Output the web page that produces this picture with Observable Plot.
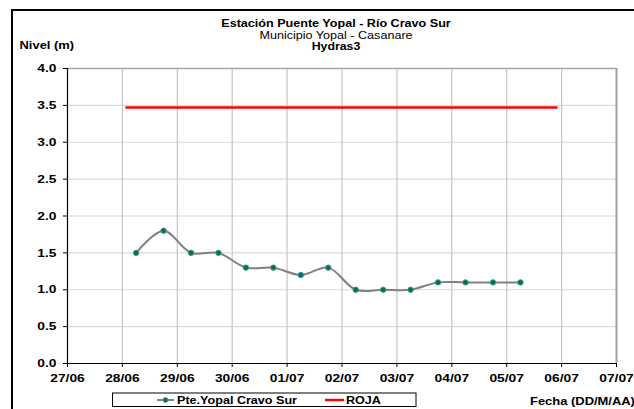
<!DOCTYPE html>
<html>
<head>
<meta charset="utf-8">
<script src="https://cdn.jsdelivr.net/npm/d3@7"></script>
<script src="https://cdn.jsdelivr.net/npm/@observablehq/plot@0.6"></script>
<style>
  html, body { margin: 0; padding: 0; background: #fff; }
  #chart { width: 634px; height: 409px; }
  svg { font-family: "Liberation Sans", Arial, sans-serif; }
</style>
</head>
<body>
<div id="chart"></div>
<script>
// ---- Data ----
const fechas = [
  "2014-06-28T06:00Z", "2014-06-28T18:00Z",
  "2014-06-29T06:00Z", "2014-06-29T18:00Z",
  "2014-06-30T06:00Z", "2014-06-30T18:00Z",
  "2014-07-01T06:00Z", "2014-07-01T18:00Z",
  "2014-07-02T06:00Z", "2014-07-02T18:00Z",
  "2014-07-03T06:00Z", "2014-07-03T18:00Z",
  "2014-07-04T06:00Z", "2014-07-04T18:00Z",
  "2014-07-05T06:00Z"
];
const niveles = [1.5, 1.8, 1.5, 1.5, 1.3, 1.3, 1.2, 1.3, 1.0, 1.0, 1.0, 1.1, 1.1, 1.1, 1.1];
const rojaFechas = ["2014-06-28T01:45Z", "2014-07-05T21:45Z"];
const rojaNiveles = [3.47, 3.47];
const diasTicks = [
  "2014-06-27", "2014-06-28", "2014-06-29", "2014-06-30", "2014-07-01", "2014-07-02",
  "2014-07-03", "2014-07-04", "2014-07-05", "2014-07-06", "2014-07-07"
];
const diasEtiquetas = ["27/06", "28/06", "29/06", "30/06", "01/07", "02/07", "03/07", "04/07", "05/07", "06/07", "07/07"];
const nivelTicks = [0, 0.5, 1, 1.5, 2, 2.5, 3, 3.5, 4];
const serieNombre = "Pte.Yopal Cravo Sur";
const rojaNombre = "ROJA";

// ---- Build tables ----
const serie = fechas.map((f, i) => ({fecha: new Date(f), nivel: niveles[i]}));
const roja = rojaFechas.map((f, i) => ({fecha: new Date(f), nivel: rojaNiveles[i]}));
const tickDates = diasTicks.map(d => new Date(d + "T00:00Z"));
const labelOf = new Map(tickDates.map((d, i) => [+d, diasEtiquetas[i]]));
const innerX = tickDates.slice(1, -1);
const innerY = nivelTicks.slice(1, -1);

const plot = Plot.plot({
  width: 634,
  height: 409,
  marginLeft: 67,
  marginRight: 18,
  marginTop: 68,
  marginBottom: 46,
  style: {fontFamily: "Liberation Sans, Arial, sans-serif", background: "#fff", overflow: "visible"},
  x: {type: "utc", domain: [tickDates[0], tickDates[tickDates.length - 1]]},
  y: {domain: [0, 4]},
  marks: [
    Plot.gridY(innerY, {stroke: "#d9d9d9", strokeOpacity: 1, strokeWidth: 1.2}),
    Plot.gridX(innerX, {stroke: "#c6c6c6", strokeOpacity: 1, strokeWidth: 1.2}),
    Plot.ruleY([4], {stroke: "#a6a6a6", strokeWidth: 1.5}),
    Plot.ruleX([tickDates[tickDates.length - 1]], {stroke: "#a0a0a0", strokeWidth: 2}),
    Plot.axisY(nivelTicks, {
      tickSize: 4, tickPadding: 7, fontSize: 11.5, fontWeight: "bold", fill: "#000",
      tickFormat: d3.format(".1f"), label: null, stroke: "#000"
    }),
    Plot.axisX(tickDates, {
      tickSize: 4, tickPadding: 6, fontSize: 11.5, fontWeight: "bold", fill: "#000",
      tickFormat: d => labelOf.get(+d), label: null, stroke: "#000"
    }),
    Plot.ruleX([tickDates[0]], {stroke: "#000", strokeWidth: 1.2}),
    Plot.ruleY([0], {stroke: "#000", strokeWidth: 1.2}),
    Plot.line(roja, {x: "fecha", y: "nivel", stroke: "#ff0000", strokeWidth: 2.5}),
    Plot.line(serie, {x: "fecha", y: "nivel", stroke: "#808080", strokeWidth: 2, curve: "catmull-rom"}),
    Plot.dot(serie, {x: "fecha", y: "nivel", r: 2.7, fill: "#007a1e", stroke: "#4a86c8", strokeWidth: 1})
  ]
});

// stretch axis labels horizontally like the original rendering
const SX = 1.2;
plot.querySelectorAll('g[aria-label$="tick label"] text').forEach(t => {
  const tr = t.getAttribute("transform") || "";
  t.setAttribute("transform", tr + ` scale(${SX},1)`);
});

const svg = d3.select(plot);
function addText(x, y, str, opts = {}) {
  svg.append("text")
    .attr("transform", `translate(${x},${y}) scale(${SX},1)`)
    .attr("text-anchor", opts.anchor || "start")
    .attr("font-size", opts.size || 11)
    .attr("font-weight", opts.bold === false ? "normal" : "bold")
    .attr("fill", "#000")
    .attr("font-family", "Liberation Sans, Arial, sans-serif")
    .text(str);
}

// outer frame
svg.append("path").attr("d", "M12,409 V10 H634").attr("fill", "none").attr("stroke", "#000").attr("stroke-width", 2);

// titles
addText(336, 27, "Estación Puente Yopal - Río Cravo Sur", {anchor: "middle", size: 10.5});
addText(336, 39, "Municipio Yopal - Casanare", {anchor: "middle", size: 10.5, bold: false});
addText(336, 50, "Hydras3", {anchor: "middle", size: 10.3});
addText(19.5, 49, "Nivel (m)", {size: 10.8});
addText(530, 405, "Fecha (DD/M/AA)", {size: 10.8});

// legend
svg.append("rect").attr("x", 112.5).attr("y", 393).attr("width", 303.5).attr("height", 13.5)
  .attr("fill", "#fff").attr("stroke", "#000").attr("stroke-width", 1);
svg.append("line").attr("x1", 157).attr("x2", 174).attr("y1", 400).attr("y2", 400)
  .attr("stroke", "#808080").attr("stroke-width", 2);
svg.append("circle").attr("cx", 165.5).attr("cy", 400).attr("r", 2.4)
  .attr("fill", "#007a1e").attr("stroke", "#4a86c8").attr("stroke-width", 1);
addText(177, 404, serieNombre, {size: 10.5});
svg.append("line").attr("x1", 325).attr("x2", 344).attr("y1", 400).attr("y2", 400)
  .attr("stroke", "#ff0000").attr("stroke-width", 2.5);
addText(346, 404, rojaNombre, {size: 10.5});

document.getElementById("chart").appendChild(plot);
</script>
</body>
</html>
